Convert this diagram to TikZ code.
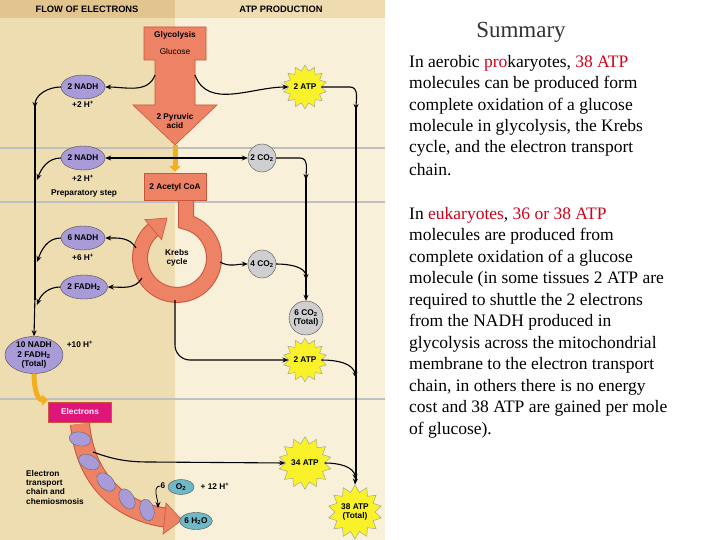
\documentclass[tikz,border=0pt]{standalone}
\usepackage{fontspec}
\setmainfont{Liberation Serif}
\newfontfamily\dsans{Liberation Sans}
\usetikzlibrary{shapes.geometric,arrows.meta}
\definecolor{bgL}{HTML}{EEDDB0}
\definecolor{bgR}{HTML}{F8F0D8}
\definecolor{hdrL}{HTML}{E2C58E}
\definecolor{hdrR}{HTML}{EEDBB0}
\definecolor{salm}{HTML}{EE8265}
\definecolor{salmD}{HTML}{C8563C}
\definecolor{purp}{HTML}{A99AD8}
\definecolor{grayc}{HTML}{CFCFD2}
\definecolor{teal}{HTML}{6FB8C6}
\definecolor{mag}{HTML}{E0157A}
\definecolor{ylw}{HTML}{F9F22A}
\definecolor{orng}{HTML}{F2B020}
\definecolor{redt}{HTML}{D0021B}
\begin{document}
\begin{tikzpicture}[x=1pt,y=-1pt,
  lab/.style={font=\dsans\bfseries\fontsize{8.3}{9.3}\selectfont,align=center,inner sep=0pt},
  ell/.style={ellipse,draw=black!70,fill=purp,minimum width=44,minimum height=24,lab},
  gas/.style={circle,draw=black!70,fill=grayc,minimum size=28,lab},
  atp/.style={star,star points=14,star point ratio=1.35,draw=black!40,fill=ylw,minimum size=40,lab},
  con/.style={-{Stealth[length=6pt,width=5pt]},line width=1.1pt},
  txt/.style={anchor=west,font=\fontsize{17.5}{20}\selectfont,inner sep=0pt}]
\useasboundingbox (0,0) rectangle (720,540);
\fill[white] (0,0) rectangle (720,540);
\fill[bgL] (0,18) rectangle (175,540);
\fill[bgR] (175,18) rectangle (385,540);
\fill[hdrL] (0,0) rectangle (175,18);
\fill[hdrR] (175,0) rectangle (385,18);
\foreach \yy in {148,202,399} \draw[black!25,line width=2pt] (0,\yy) -- (385,\yy);
\node[lab,font=\dsans\bfseries\fontsize{9.3}{10}\selectfont] (h1) at (87,9) {FLOW OF ELECTRONS};
\node[lab,font=\dsans\bfseries\fontsize{9.3}{10}\selectfont] (h2) at (281,9) {ATP PRODUCTION};
% glycolysis arrow
\draw[salmD,fill=salm,line width=0.6pt] (144,27) -- (206,27) -- (206,60) -- (195,60) -- (195,105) -- (217,105) -- (175,145) -- (133,105) -- (155,105) -- (155,60) -- (144,60) -- cycle;
\node[lab] (gly) at (175,35) {Glycolysis};
\node[lab,font=\dsans\fontsize{8.3}{9.3}\selectfont] (glu) at (175,52) {Glucose};
\node[lab] (pyr) at (175,121) {2 Pyruvic\\acid};
\coordinate (gl) at (155,75); \coordinate (gr) at (195,75);
\draw[orng,line width=5pt,-{Triangle[length=6pt,width=11pt]}] (175,145) -- (175,172);
% acetyl + krebs
\draw[salmD,line width=16pt] (186,199) -- (186,222) arc[start angle=-76,end angle=230,radius=37];
\draw[salm,line width=14pt] (186,200) -- (186,222) arc[start angle=-76,end angle=230,radius=37];
\fill[salm,draw=salmD,line width=0.6pt] (167,218) -- (161.6,239.7) -- (144.8,219.7) -- cycle;
\draw[salmD,fill=salm,line width=0.6pt] (144,173) rectangle (206,200);
\node[lab] (acc) at (175,187) {2 Acetyl CoA};
\node[lab] (krebs) at (177,258) {Krebs\\cycle};
% left electrons
\node[ell] (n1) at (83,87) {2 NADH};
\node[lab] (h1p) at (83,104) {+2 H\textsuperscript{+}};
\node[ell] (n2) at (83,158) {2 NADH};
\node[lab] (h2p) at (83,178) {+2 H\textsuperscript{+}};
\node[lab] (prep) at (84,194) {Preparatory step};
\node[ell] (n3) at (83,238) {6 NADH};
\node[lab] (h3p) at (83,257) {+6 H\textsuperscript{+}};
\node[ell] (f1) at (84,287) {2 FADH\textsubscript{2}};
\node[ell,minimum width=58,minimum height=37] (tot) at (34,355) {10 NADH\\2 FADH\textsubscript{2}\\(Total)};
\node[lab] (h10) at (80,344) {+10 H\textsuperscript{+}};
% right side
\node[atp] (a1) at (305,87) {2 ATP};
\node[gas] (c1) at (262,158) {2 CO\textsubscript{2}};
\node[gas] (c2) at (262,264) {4 CO\textsubscript{2}};
\node[gas,minimum size=34] (c3) at (306,318) {6 CO\textsubscript{2}\\(Total)};
\node[atp] (a2) at (305,360) {2 ATP};
\node[atp] (a3) at (305,463) {34 ATP};
\node[atp,minimum size=54] (a4) at (355,512) {38 ATP\\(Total)};
% connectors
\draw[con] (gl) to[out=-110,in=0] (n1.east);
\draw[con] (gr) to[out=-70,in=180] (a1.west);
\draw[con] (n1.west) to[out=180,in=90] (35,108);
\draw[line width=1.1pt] (35,105) -- (35,300);
\draw[con] (35,295) -- (tot.north);
\coordinate (pm) at (175,158);
\draw[con] (pm) -- (n2.east);
\draw[con] (pm) -- (c1.west);
\draw[con] (n2.west) to[out=180,in=70] (37,180);
\draw[con] (c1.east) -- (300,158) to[out=0,in=90] (306,180);
\draw[line width=1.1pt] (306,178) -- (306,290);
\draw[con] (306,290) -- (c3.north);
\draw[con] (136,248) to[out=120,in=0] (n3.east);
\draw[con] (n3.west) to[out=180,in=70] (37,262);
\draw[con] (142,278) to[out=-120,in=0] (f1.east);
\draw[con] (f1.west) to[out=180,in=70] (37,305);
\draw[con] (220,262) to[out=-30,in=180] (c2.west);
\draw[con] (c2.east) to[out=0,in=90] (306,280);
\draw[con] (a1.east) -- (350,87) to[out=0,in=90] (356,110);
\draw[line width=1.1pt] (356,108) -- (356,480);
\draw[con] (356,470) -- (a4.north);
\draw[con] (175,300) -- (175,345) to[out=-90,in=180] (190,360) -- (a2.west);
\draw[con] (a2.east) to[out=0,in=100] (356,378);
% ETC
\draw[orng,line width=5pt,-{Triangle[length=6pt,width=11pt]}] (34,374) to[out=-90,in=180] (48,400);
\node[fill=mag,draw=salmD,minimum width=63,minimum height=20,inner sep=0pt,font=\dsans\bfseries\fontsize{8.3}{9}\selectfont,text=white!90!pink] (el) at (80,412) {Electrons};
\draw[salmD,line width=20pt] (80,424) .. controls (85,480) and (120,512) .. (168,518);
\draw[salm,line width=18pt] (80,424) .. controls (85,480) and (120,512) .. (168,518);
\fill[salm,draw=salmD,line width=0.6pt] (166,503) -- (182,520) -- (163,534) -- cycle;
\foreach \px/\py/\rr in {80/439/80,89/462/65,106/482/45,127/499/30,147/510/15}
  \draw[black!60,fill=purp] (\px,\py) ellipse[x radius=7,y radius=11,rotate=\rr];
\coordinate (es) at (93,452);
\draw[con] (es) to[out=-20,in=180] (150,462) -- (a3.west);
\draw[con] (a3.east) to[out=0,in=100] (356,480);
\node[lab,align=left,anchor=north west] (etc) at (26,470) {Electron\\transport\\chain and\\chemiosmosis};
\node[lab] (six) at (163,486) {6};
\node[ellipse,draw=black!70,fill=teal,minimum width=26,minimum height=15,lab] (o2) at (181,487) {O\textsubscript{2}};
\node[lab] (h12) at (215,486) {+ 12 H\textsuperscript{+}};
\node[ellipse,draw=black!70,fill=teal,minimum width=32,minimum height=17,lab] (h2o) at (196,521) {6 H\textsubscript{2}O};
\draw[con,line width=0.8pt] (six.west) to[out=180,in=90] (158,508);
% right text
\node[font=\fontsize{23}{26}\selectfont,text=black!80] (sum) at (521,32) {Summary};
\foreach \i/\t in {
 0/{In aerobic \textcolor{redt}{pro}karyotes, \textcolor{redt}{38 ATP}},
 1/{molecules can be produced form},
 2/{complete oxidation of a glucose},
 3/{molecule in glycolysis, the Krebs},
 4/{cycle, and the electron transport},
 5/{chain.}}
 \node[txt] (p\i) at (409,63+21.4*\i) {\t};
\foreach \i/\t in {
 0/{In \textcolor{redt}{eukaryotes}, \textcolor{redt}{36 or 38 ATP}},
 1/{molecules are produced from},
 2/{complete oxidation of a glucose},
 3/{molecule (in some tissues 2 ATP are},
 4/{required to shuttle the 2 electrons},
 5/{from the NADH produced in},
 6/{glycolysis across the mitochondrial},
 7/{membrane to the electron transport},
 8/{chain, in others there is no energy},
 9/{cost and 38 ATP are gained per mole},
 10/{of glucose).}}
 \node[txt] (q\i) at (409,215+21.5*\i) {\t};
\end{tikzpicture}
\end{document}
